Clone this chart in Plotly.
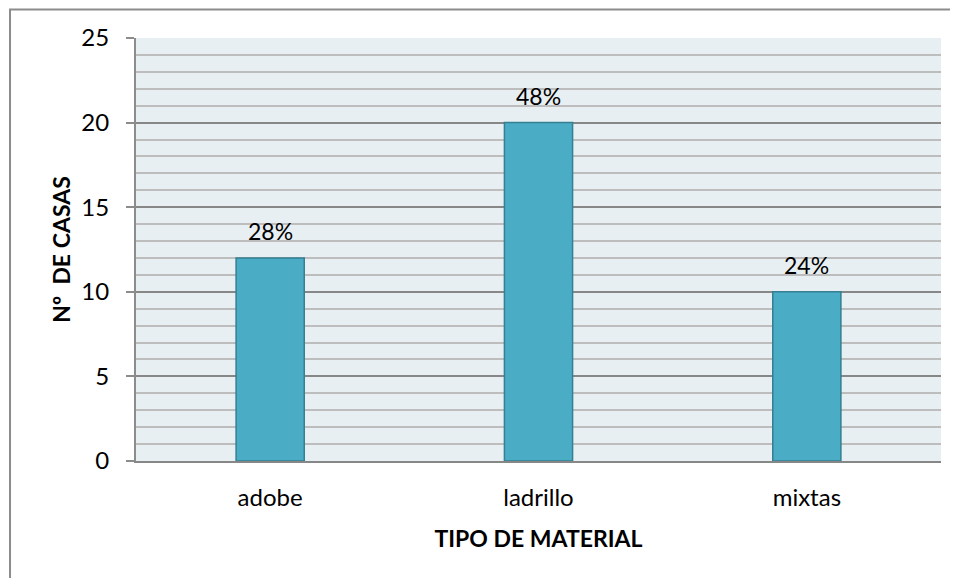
import plotly.graph_objects as go

categories = ["adobe", "ladrillo", "mixtas"]
casas = [12, 20, 10]
porcentajes = ["28%", "48%", "24%"]
y_ticks = [0, 5, 10, 15, 20, 25]

FONT = "Lato"

fig = go.Figure()
fig.add_trace(go.Bar(
    x=categories, y=casas, width=0.254,
    marker=dict(color="#4BACC6", line=dict(color="#357F93", width=1.5)),
    hoverinfo="skip",
))

for c, v, p in zip(categories, casas, porcentajes):
    fig.add_annotation(x=c, y=v, text=p, showarrow=False, yanchor="bottom",
                       yshift=11, font=dict(family=FONT, size=23, color="#000"))

# outer chart frame
fig.add_shape(type="rect", xref="paper", yref="paper",
              x0=-0.1565, x1=1.1, y0=-0.35, y1=1.0674,
              line=dict(color="#8c8c8c", width=2), layer="below")

fig.update_layout(
    width=950, height=570,
    margin=dict(l=128, r=17, t=30, b=117),
    paper_bgcolor="white", plot_bgcolor="#E8EFF2",
    showlegend=False,
    font=dict(family=FONT, size=24, color="#000"),
)
fig.update_xaxes(
    showline=True, linecolor="#878787", linewidth=2,
    ticks="", showgrid=False, ticklabelstandoff=14,
    tickfont=dict(family=FONT, size=24),
    title=dict(text="<b>TIPO DE MATERIAL</b>", standoff=21,
               font=dict(family=FONT, size=23)),
)
fig.update_yaxes(
    range=[0, 25], tickvals=y_ticks,
    showline=True, linecolor="#8c8c8c", linewidth=2,
    ticks="outside", ticklen=8, tickcolor="#8c8c8c", tickwidth=2,
    ticklabelstandoff=12,
    showgrid=True, gridcolor="#878787", gridwidth=2,
    minor=dict(dtick=1, showgrid=True, gridcolor="#BDBDBD", gridwidth=2, ticks=""),
    zeroline=False,
    tickfont=dict(family=FONT, size=24),
    title=dict(text="<b>Nº  DE CASAS</b>", standoff=4,
               font=dict(family=FONT, size=23)),
)

fig.write_html("out.html")
